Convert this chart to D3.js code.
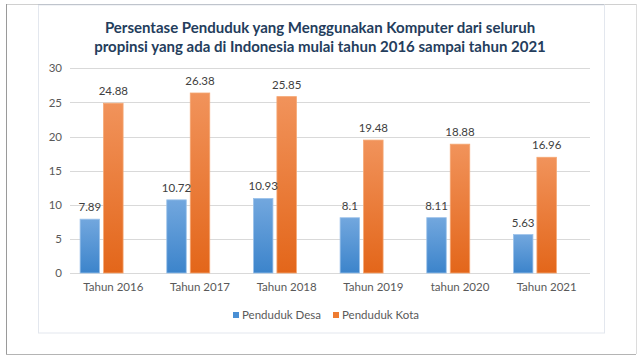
<!DOCTYPE html>
<html><head><meta charset="utf-8">
<script src="https://cdn.jsdelivr.net/npm/d3@7"></script>
<style>
html,body{margin:0;padding:0;background:#fff;}
svg{display:block;}
text{font-family:Lato, "Open Sans", sans-serif;}
</style></head>
<body><svg id="c" width="639" height="360"></svg>
<script>
const categories = ["Tahun 2016","Tahun 2017","Tahun 2018","Tahun 2019","tahun 2020","Tahun 2021"];
const desa = [7.89, 10.72, 10.93, 8.1, 8.11, 5.63];
const kota = [24.88, 26.38, 25.85, 19.48, 18.88, 16.96];
const seriesNames = ["Penduduk Desa","Penduduk Kota"];
const yTicks = [0,5,10,15,20,25,30];
const titleLines = ["Persentase Penduduk yang Menggunakan Komputer dari seluruh","propinsi yang ada di Indonesia mulai tahun 2016 sampai tahun 2021"];

const svg = d3.select("#c");
const defs = svg.append("defs");
function grad(id, c1, c2){
  const g = defs.append("linearGradient").attr("id",id).attr("x1",0).attr("y1",0).attr("x2",0).attr("y2",1);
  g.append("stop").attr("offset","0%").attr("stop-color",c1);
  g.append("stop").attr("offset","100%").attr("stop-color",c2);
}
grad("gBlue","#72a7de","#3c84cb");
grad("gOrange","#f1935b","#e3661a");

// outer frame
svg.append("line").attr("x1",6).attr("x2",636).attr("y1",4.5).attr("y2",4.5).attr("stroke","#d0d0d0");
svg.append("line").attr("x1",38).attr("x2",604).attr("y1",4.5).attr("y2",4.5).attr("stroke","#9aa0ab");
svg.append("line").attr("x1",6.5).attr("x2",6.5).attr("y1",4).attr("y2",354).attr("stroke","#9a9a9a");
svg.append("line").attr("x1",6).attr("x2",636).attr("y1",354.5).attr("y2",354.5).attr("stroke","#b4b4b4");
svg.append("line").attr("x1",636.5).attr("x2",636.5).attr("y1",4).attr("y2",354).attr("stroke","#dcdcdc");
// inner chart box
svg.append("rect").attr("x",38.5).attr("y",5).attr("width",566).attr("height",328)
  .attr("fill","none").attr("stroke","#e3e7ee");

const x0 = d3.scaleBand().domain(categories).range([70,590]).paddingInner(0.233).paddingOuter(0.1165);
const x1 = d3.scaleBand().domain([0,1,2]).range([0,x0.bandwidth()]).paddingInner(0.17).paddingOuter(0);
const y = d3.scaleLinear().domain([0,30]).range([273,68.3]);

// grid
svg.append("g").selectAll("line").data(yTicks).join("line")
  .attr("x1",70).attr("x2",590)
  .attr("y1",d=>Math.round(y(d))+0.5).attr("y2",d=>Math.round(y(d))+0.5)
  .attr("stroke","#d9d9d9").attr("stroke-width",1);

// y tick labels
const yAxis = svg.append("g").attr("transform","translate(62,0)")
  .call(d3.axisLeft(y).tickValues(yTicks).tickSize(0).tickPadding(0));
yAxis.select(".domain").remove();
yAxis.selectAll("text").attr("font-size",11.5).attr("fill","#595959").attr("font-family","Lato");

// x axis labels
const xAxis = svg.append("g").attr("transform","translate(0,283)")
  .call(d3.axisBottom(x0).tickSize(0).tickPadding(0));
xAxis.select(".domain").remove();
xAxis.selectAll("text").attr("font-size",11.5).attr("fill","#595959").attr("font-family","Lato");

const data = categories.map((c,i)=>({cat:c, vals:[desa[i],kota[i]]}));
const fills = ["url(#gBlue)","url(#gOrange)"];
const strokes = ["#9cc2ea","#f5a773"];
const groups = svg.append("g").selectAll("g").data(data).join("g")
  .attr("transform",d=>`translate(${x0(d.cat)},0)`);
groups.selectAll("rect").data(d=>d.vals.map((v,k)=>({v,k}))).join("rect")
  .attr("x",d=>x1(d.k)).attr("width",x1.bandwidth())
  .attr("y",d=>y(d.v)).attr("height",d=>y(0)-y(d.v))
  .attr("fill",d=>fills[d.k]).attr("stroke",d=>strokes[d.k]).attr("stroke-width",0.8);
groups.selectAll("text").data(d=>d.vals.map((v,k)=>({v,k}))).join("text")
  .attr("x",d=>x1(d.k)+x1.bandwidth()/2).attr("y",d=>y(d.v)-8)
  .attr("text-anchor","middle").attr("font-size",11.5).attr("fill","#404040")
  .text(d=>d.v);

// title
svg.append("g").selectAll("text").data(titleLines).join("text")
  .attr("x",320).attr("y",(d,i)=>33+i*18.5).attr("text-anchor","middle")
  .attr("font-size",15).attr("font-weight","bold").attr("fill","#243d5c").text(d=>d);

// legend
const legColors = ["#4a8fd4","#ee7b30"];
const legX = [233,333];
const leg = svg.append("g").selectAll("g").data(seriesNames).join("g")
  .attr("transform",(d,i)=>`translate(${legX[i]},312)`);
leg.append("rect").attr("width",6).attr("height",6).attr("fill",(d,i)=>legColors[i]);
leg.append("text").attr("x",9).attr("y",7).attr("font-size",11.5).attr("fill","#595959").text(d=>d);
</script></body></html>
